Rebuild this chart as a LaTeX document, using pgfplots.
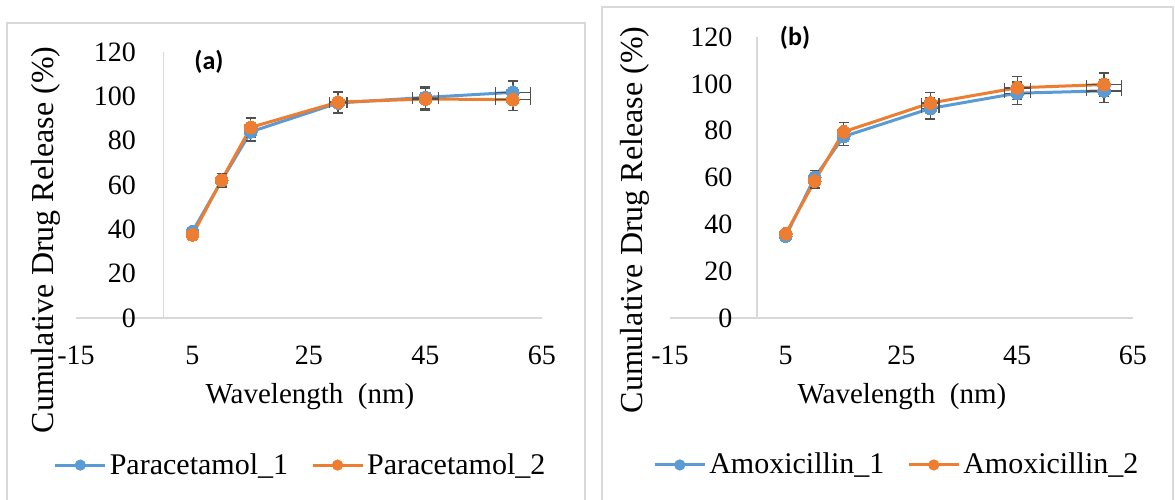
\documentclass[border=0pt]{standalone}
\usepackage{pgfplots}
\pgfplotsset{compat=1.18}
\usepackage{pgfplotstable}
\usepackage{fontspec}
\setmainfont{Liberation Serif}
\newfontfamily\calibri{Carlito}
\definecolor{blueE}{HTML}{5B9BD5}
\definecolor{orangeE}{HTML}{ED7D31}
\definecolor{axisgray}{HTML}{D9D9D9}
\definecolor{bordergray}{HTML}{D9D9D9}
\definecolor{errgray}{HTML}{505050}

\pgfplotstableread{
x y ex ey
5 39 0.25 1.95
10 62 0.5 3.1
15 84 0.75 4.2
30 97 1.5 4.85
45 99.5 2.25 4.98
60 101.8 3 5.09
}\paraA
\pgfplotstableread{
x y ex ey
5 37.5 0.25 1.88
10 62.2 0.5 3.11
15 86 0.75 4.3
30 97.4 1.5 4.87
45 98.8 2.25 4.94
60 98.5 3 4.93
}\paraB
\pgfplotstableread{
x y ex ey
5 35 0.25 1.75
10 60 0.5 3.0
15 77.5 0.75 3.88
30 89.5 1.5 4.48
45 96 2.25 4.8
60 97 3 4.85
}\amoxA
\pgfplotstableread{
x y ex ey
5 36 0.25 1.8
10 58.5 0.5 2.93
15 79.5 0.75 3.98
30 91.8 1.5 4.59
45 98.3 2.25 4.92
60 99.7 3 4.99
}\amoxB

\pgfplotsset{
  excelstyle/.style={
    anchor=south west, scale only axis,
    xmin=-15, xmax=65, ymin=0, ymax=120,
    axis x line=middle, axis y line=middle,
    axis line style={draw=axisgray, line width=0.75pt, -},
    xtick={-15,5,25,45,65}, ytick={0,20,40,60,80,100,120},
    major tick length=0pt,
    tick label style={font=\fontsize{14}{16}\selectfont},
    /pgf/number format/assume math mode=true,
    xticklabel style={anchor=north, inner sep=0pt, yshift=-14pt},
    yticklabel style={anchor=east, inner sep=0pt},
    clip=false,
    legend columns=2,
    legend style={draw=none, fill=none, inner sep=0pt,
      font=\fontsize{15}{17}\selectfont,
      nodes={inner sep=1.5pt},
      /tikz/every even column/.append style={column sep=10pt}},
    legend cell align=left,
  },
  ser/.style={color=#1, line width=1.5pt, mark=*, mark size=3.2pt,
    mark options={fill=#1, draw=#1, line width=0pt},
    error bars/.cd, x dir=both, x explicit, y dir=both, y explicit,
    error bar style={color=errgray, line width=0.7pt},
    error mark options={rotate=90, mark size=2.5pt, color=errgray, line width=0.7pt},
    /pgfplots/.cd},
}

\begin{document}
\begin{tikzpicture}
\useasboundingbox (0pt,0pt) rectangle (587.5pt,249.5pt);
% panel borders
\draw[bordergray, line width=0.6pt] (3.5pt,-2pt) -- (3.5pt,238pt) -- (292.5pt,238pt) -- (292.5pt,-2pt);
\draw[bordergray, line width=0.6pt] (301pt,-2pt) -- (301pt,246pt) -- (586.5pt,246pt) -- (586.5pt,-2pt);

\begin{axis}[excelstyle, at={(38pt,90.5pt)}, width=233pt, height=133pt,
  yticklabel style={xshift=-13.5pt},
  legend style={at={(axis description cs:0.483,-0.553)}, anchor=center}]
\addplot[forget plot, ser=blueE] table[x=x, y=y, x error=ex, y error=ey] {\paraA};
\addplot[forget plot, ser=orangeE] table[x=x, y=y, x error=ex, y error=ey] {\paraB};
\addlegendimage{legend image code/.code={\draw[blueE, line width=1.5pt] (0pt,0pt) -- (25pt,0pt); \fill[blueE] (12.5pt,0pt) circle (2.6pt);}}
\addlegendentry{Paracetamol\_1}
\addlegendimage{legend image code/.code={\draw[orangeE, line width=1.5pt] (0pt,0pt) -- (25pt,0pt); \fill[orangeE] (12.5pt,0pt) circle (2.6pt);}}
\addlegendentry{Paracetamol\_2}
\node[anchor=east, inner sep=0pt, xshift=-13.5pt, font=\fontsize{14}{16}\selectfont] at (axis cs:0,0) {0};
\end{axis}

\begin{axis}[excelstyle, at={(335pt,90.5pt)}, width=231.5pt, height=140.5pt,
  yticklabel style={xshift=-12pt},
  legend style={at={(axis description cs:0.491,-0.523)}, anchor=center}]
\addplot[forget plot, ser=blueE] table[x=x, y=y, x error=ex, y error=ey] {\amoxA};
\addplot[forget plot, ser=orangeE] table[x=x, y=y, x error=ex, y error=ey] {\amoxB};
\addlegendimage{legend image code/.code={\draw[blueE, line width=1.5pt] (0pt,0pt) -- (25pt,0pt); \fill[blueE] (12.5pt,0pt) circle (2.6pt);}}
\addlegendentry{Amoxicillin\_1}
\addlegendimage{legend image code/.code={\draw[orangeE, line width=1.5pt] (0pt,0pt) -- (25pt,0pt); \fill[orangeE] (12.5pt,0pt) circle (2.6pt);}}
\addlegendentry{Amoxicillin\_2}
\node[anchor=east, inner sep=0pt, xshift=-12pt, font=\fontsize{14}{16}\selectfont] at (axis cs:0,0) {0};
\end{axis}

% axis titles
\node[font=\fontsize{14.5}{17}\selectfont] at (155pt,51pt) {Wavelength\ \ (nm)};
\node[font=\fontsize{14.5}{17}\selectfont] at (451pt,51pt) {Wavelength\ \ (nm)};
\node[font=\fontsize{16}{18}\selectfont, rotate=90] at (23pt,129.5pt) {Cumulative Drug Release (\%)};
\node[font=\fontsize{16}{18}\selectfont, rotate=90] at (317.5pt,139.5pt) {Cumulative Drug Release (\%)};
% panel letters
\node[font=\calibri\bfseries\fontsize{13}{15}\selectfont] at (104.5pt,218.5pt) {(a)};
\node[font=\calibri\bfseries\fontsize{13}{15}\selectfont] at (397.5pt,230.5pt) {(b)};
\end{tikzpicture}
\end{document}
